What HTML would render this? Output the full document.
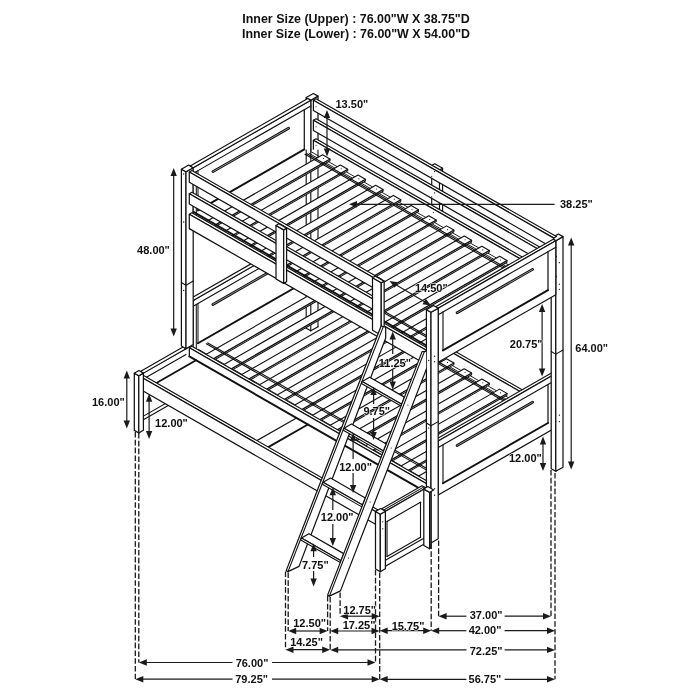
<!DOCTYPE html>
<html><head><meta charset="utf-8"><title>Bunk bed dimensions</title>
<style>
html,body{margin:0;padding:0;background:#fff;}
body{width:700px;height:700px;overflow:hidden;position:relative;font-family:"Liberation Sans",sans-serif;}
svg{position:absolute;left:0;top:0;display:block;will-change:transform;}
svg text{font-family:"Liberation Sans",sans-serif;font-weight:bold;fill:#111;}
</style></head><body>
<svg width="700" height="700" viewBox="0 0 700 700">
<g stroke-linejoin="round" stroke-linecap="round">
<path d="M306.20,97.59 L310.80,100.23 L310.80,330.83 L306.20,328.19 Z" fill="#fff" stroke="#111" stroke-width="1.23" />
<path d="M310.80,100.23 L318.00,96.10 L318.00,326.70 L310.80,330.83 Z" fill="#fff" stroke="#111" stroke-width="1.23" />
<path d="M306.20,97.59 L310.80,100.23 L318.00,96.10 L313.40,93.46 Z" fill="#fff" stroke="#111" stroke-width="1.23" />
<path d="M313.40,273.04 L553.80,410.91 L556.40,409.41 L316.00,271.55 Z" fill="#fff" stroke="#111" stroke-width="1.13" />
<path d="M313.40,273.04 L553.80,410.91 L553.80,425.21 L313.40,287.34 Z" fill="#fff" stroke="#111" stroke-width="1.23" />
<path d="M193.20,300.47 L310.80,233.03 L310.80,288.03 L193.20,355.47 Z" fill="#fff" stroke="#111" stroke-width="1.13" />
<path d="M193.20,300.47 L310.80,233.03 L307.80,231.31 L190.20,298.75 Z" fill="#fff" stroke="#111" stroke-width="1.13" />
<path d="M193.20,306.17 L310.80,238.73" fill="none" stroke="#111" stroke-width="1.13" />
<path d="M304.30,242.45 L304.30,282.25" fill="none" stroke="#111" stroke-width="1.23" />
<path d="M198.00,303.42 L198.00,343.22" fill="none" stroke="#111" stroke-width="1.03" />
<path d="M196.30,304.39 L196.30,353.69" fill="none" stroke="#111" stroke-width="1.03" />
<path d="M198.00,343.22 L304.30,282.25" fill="none" stroke="#111" stroke-width="1.93" />
<path d="M212.90,304.47 L288.60,261.06" fill="none" stroke="#111" stroke-width="2.7" stroke-linecap="round"/>
<path d="M212.90,304.47 L288.60,261.06" fill="none" stroke="#ddd" stroke-width="0.6" stroke-linecap="round"/>
<path d="M191.90,352.02 L432.30,489.89 L553.80,420.21 L313.40,282.34 Z" fill="#fff" stroke="none" stroke-width="0.00" />
<path d="M306.20,283.00 L306.20,328.20" fill="none" stroke="#111" stroke-width="1.13" />
<path d="M310.80,283.00 L310.80,330.80" fill="none" stroke="#111" stroke-width="1.13" />
<path d="M318.00,283.00 L318.00,326.70" fill="none" stroke="#111" stroke-width="1.13" />
<path d="M306.20,328.20 L310.80,330.80" fill="none" stroke="#111" stroke-width="1.13" />
<path d="M310.80,330.80 L318.00,326.70" fill="none" stroke="#111" stroke-width="1.13" />
<path d="M195.50,351.15 L435.90,489.02" fill="none" stroke="#111" stroke-width="0.93" />
<path d="M198.50,349.43 L438.90,487.30" fill="none" stroke="#111" stroke-width="0.93" />
<path d="M309.00,286.06 L549.40,423.93" fill="none" stroke="#111" stroke-width="0.93" />
<path d="M311.40,284.68 L551.80,422.55" fill="none" stroke="#111" stroke-width="0.93" />
<path d="M208.50,361.54 L330.00,291.86 L330.00,293.56 L208.50,363.24 Z" fill="#fff" stroke="#111" stroke-width="1.03" />
<path d="M201.10,357.29 L208.50,361.54 L330.00,291.86 L322.60,287.61 Z" fill="#fff" stroke="#111" stroke-width="1.13" />
<circle cx="323.50" cy="291.34" r="0.55" fill="#111"/>
<path d="M226.20,371.69 L347.70,302.01 L347.70,303.71 L226.20,373.39 Z" fill="#fff" stroke="#111" stroke-width="1.03" />
<path d="M218.80,367.44 L226.20,371.69 L347.70,302.01 L340.30,297.76 Z" fill="#fff" stroke="#111" stroke-width="1.13" />
<circle cx="341.20" cy="301.49" r="0.55" fill="#111"/>
<path d="M243.90,381.84 L365.40,312.16 L365.40,313.86 L243.90,383.54 Z" fill="#fff" stroke="#111" stroke-width="1.03" />
<path d="M236.50,377.59 L243.90,381.84 L365.40,312.16 L358.00,307.91 Z" fill="#fff" stroke="#111" stroke-width="1.13" />
<circle cx="358.90" cy="311.64" r="0.55" fill="#111"/>
<path d="M261.60,391.99 L383.10,322.31 L383.10,324.01 L261.60,393.69 Z" fill="#fff" stroke="#111" stroke-width="1.03" />
<path d="M254.20,387.75 L261.60,391.99 L383.10,322.31 L375.70,318.07 Z" fill="#fff" stroke="#111" stroke-width="1.13" />
<circle cx="376.60" cy="321.79" r="0.55" fill="#111"/>
<path d="M279.30,402.14 L400.80,332.46 L400.80,334.16 L279.30,403.84 Z" fill="#fff" stroke="#111" stroke-width="1.03" />
<path d="M271.90,397.90 L279.30,402.14 L400.80,332.46 L393.40,328.22 Z" fill="#fff" stroke="#111" stroke-width="1.13" />
<circle cx="394.30" cy="331.94" r="0.55" fill="#111"/>
<path d="M297.00,412.29 L418.50,342.61 L418.50,344.31 L297.00,413.99 Z" fill="#fff" stroke="#111" stroke-width="1.03" />
<path d="M289.60,408.05 L297.00,412.29 L418.50,342.61 L411.10,338.37 Z" fill="#fff" stroke="#111" stroke-width="1.13" />
<circle cx="412.00" cy="342.09" r="0.55" fill="#111"/>
<path d="M314.70,422.44 L436.20,352.76 L436.20,354.46 L314.70,424.14 Z" fill="#fff" stroke="#111" stroke-width="1.03" />
<path d="M307.30,418.20 L314.70,422.44 L436.20,352.76 L428.80,348.52 Z" fill="#fff" stroke="#111" stroke-width="1.13" />
<circle cx="429.70" cy="352.25" r="0.55" fill="#111"/>
<path d="M332.40,432.59 L453.90,362.91 L453.90,364.61 L332.40,434.29 Z" fill="#fff" stroke="#111" stroke-width="1.03" />
<path d="M325.00,428.35 L332.40,432.59 L453.90,362.91 L446.50,358.67 Z" fill="#fff" stroke="#111" stroke-width="1.13" />
<circle cx="447.40" cy="362.40" r="0.55" fill="#111"/>
<path d="M350.10,442.74 L471.60,373.06 L471.60,374.76 L350.10,444.44 Z" fill="#fff" stroke="#111" stroke-width="1.03" />
<path d="M342.70,438.50 L350.10,442.74 L471.60,373.06 L464.20,368.82 Z" fill="#fff" stroke="#111" stroke-width="1.13" />
<circle cx="465.10" cy="372.55" r="0.55" fill="#111"/>
<path d="M367.80,452.90 L489.30,383.21 L489.30,384.91 L367.80,454.60 Z" fill="#fff" stroke="#111" stroke-width="1.03" />
<path d="M360.40,448.65 L367.80,452.90 L489.30,383.21 L481.90,378.97 Z" fill="#fff" stroke="#111" stroke-width="1.13" />
<circle cx="482.80" cy="382.70" r="0.55" fill="#111"/>
<path d="M385.50,463.05 L507.00,393.37 L507.00,395.07 L385.50,464.75 Z" fill="#fff" stroke="#111" stroke-width="1.03" />
<path d="M378.10,458.80 L385.50,463.05 L507.00,393.37 L499.60,389.12 Z" fill="#fff" stroke="#111" stroke-width="1.13" />
<circle cx="500.50" cy="392.85" r="0.55" fill="#111"/>
<path d="M403.20,473.20 L524.70,403.52 L524.70,405.22 L403.20,474.90 Z" fill="#fff" stroke="#111" stroke-width="1.03" />
<path d="M395.80,468.95 L403.20,473.20 L524.70,403.52 L517.30,399.27 Z" fill="#fff" stroke="#111" stroke-width="1.13" />
<circle cx="518.20" cy="403.00" r="0.55" fill="#111"/>
<path d="M420.90,483.35 L542.40,413.67 L542.40,415.37 L420.90,485.05 Z" fill="#fff" stroke="#111" stroke-width="1.03" />
<path d="M413.50,479.10 L420.90,483.35 L542.40,413.67 L535.00,409.42 Z" fill="#fff" stroke="#111" stroke-width="1.13" />
<circle cx="535.90" cy="413.15" r="0.55" fill="#111"/>
<path d="M306.50,286.29 L546.90,424.16" fill="none" stroke="#111" stroke-width="1.13" />
<path d="M305.00,287.15 L545.40,425.02" fill="none" stroke="#111" stroke-width="1.13" />
<path d="M206.30,343.76 L446.70,481.63" fill="none" stroke="#111" stroke-width="1.13" />
<path d="M207.80,342.90 L448.20,480.77" fill="none" stroke="#111" stroke-width="1.13" />
<path d="M189.30,347.71 L429.70,485.58 L432.30,484.09 L191.90,346.22 Z" fill="#fff" stroke="#111" stroke-width="1.13" />
<path d="M189.30,347.71 L429.70,485.58 L429.70,499.88 L189.30,362.01 Z" fill="#fff" stroke="#111" stroke-width="1.23" />
<path d="M438.20,440.98 L555.80,373.53 L553.20,372.04 L435.60,439.49 Z" fill="#fff" stroke="#111" stroke-width="1.13" />
<path d="M438.20,440.98 L555.80,373.53 L555.80,427.53 L438.20,494.98 Z" fill="#fff" stroke="#111" stroke-width="1.23" />
<path d="M438.20,447.48 L555.80,380.03" fill="none" stroke="#111" stroke-width="1.13" />
<path d="M443.00,444.73 L443.00,483.23" fill="none" stroke="#111" stroke-width="1.13" />
<path d="M548.00,384.51 L548.00,423.01" fill="none" stroke="#111" stroke-width="1.23" />
<path d="M443.00,483.23 L548.00,423.01" fill="none" stroke="#111" stroke-width="1.93" />
<path d="M457.10,445.54 L532.60,402.24" fill="none" stroke="#111" stroke-width="2.7" stroke-linecap="round"/>
<path d="M457.10,445.54 L532.60,402.24" fill="none" stroke="#ddd" stroke-width="0.6" stroke-linecap="round"/>
<path d="M143.40,373.13 L189.30,346.81 L189.30,360.81 L143.40,387.13 Z" fill="#fff" stroke="#111" stroke-width="1.13" />
<path d="M140.40,371.41 L183.00,346.98 L186.00,348.70 L143.40,373.13 Z" fill="#fff" stroke="#111" stroke-width="1.13" />
<path d="M143.40,378.93 L186.00,354.50" fill="none" stroke="#111" stroke-width="1.13" />
<path d="M143.40,416.13 L180.00,395.14" fill="none" stroke="#111" stroke-width="1.13" />
<path d="M143.40,419.73 L180.00,398.74" fill="none" stroke="#111" stroke-width="1.13" />
<path d="M141.40,383.88 L378.10,519.63 L426.00,492.15 L189.30,356.41 Z" fill="#fff" stroke="none" stroke-width="0.00" />
<path d="M148.15,387.75 L196.05,360.28" fill="none" stroke="#111" stroke-width="1.83" />
<path d="M248.60,445.36 L296.50,417.89" fill="none" stroke="#111" stroke-width="1.13" />
<path d="M260.00,451.90 L307.90,424.42" fill="none" stroke="#111" stroke-width="1.83" />
<path d="M189.30,356.41 L426.00,492.15" fill="none" stroke="#111" stroke-width="1.93" />
<path d="M181.40,169.16 L186.00,171.80 L186.00,348.70 L181.40,346.06 Z" fill="#fff" stroke="#111" stroke-width="1.23" />
<path d="M186.00,171.80 L193.20,167.67 L193.20,344.57 L186.00,348.70 Z" fill="#fff" stroke="#111" stroke-width="1.23" />
<path d="M181.40,169.16 L186.00,171.80 L193.20,167.67 L188.60,165.03 Z" fill="#fff" stroke="#111" stroke-width="1.23" />
<path d="M181.40,282.56 L186.00,285.20" fill="none" stroke="#111" stroke-width="1.03" />
<path d="M186.00,285.20 L193.20,281.07" fill="none" stroke="#111" stroke-width="1.03" />
<circle cx="183.70" cy="173.98" r="0.65" fill="#111"/>
<circle cx="183.70" cy="221.98" r="0.65" fill="#111"/>
<circle cx="183.70" cy="290.48" r="0.65" fill="#111"/>
<path d="M551.20,238.10 L555.80,240.73 L555.80,471.33 L551.20,468.70 Z" fill="#fff" stroke="#111" stroke-width="1.23" />
<path d="M555.80,240.73 L563.00,236.61 L563.00,467.21 L555.80,471.33 Z" fill="#fff" stroke="#111" stroke-width="1.23" />
<path d="M551.20,238.10 L555.80,240.73 L563.00,236.61 L558.40,233.97 Z" fill="#fff" stroke="#111" stroke-width="1.23" />
<path d="M551.20,351.50 L555.80,354.13" fill="none" stroke="#111" stroke-width="1.03" />
<path d="M555.80,354.13 L563.00,350.01" fill="none" stroke="#111" stroke-width="1.03" />
<circle cx="559.40" cy="262.67" r="0.65" fill="#111"/>
<circle cx="559.40" cy="284.17" r="0.65" fill="#111"/>
<circle cx="559.40" cy="289.37" r="0.65" fill="#111"/>
<circle cx="559.40" cy="415.17" r="0.65" fill="#111"/>
<circle cx="559.40" cy="421.67" r="0.65" fill="#111"/>
<path d="M431.70,165.60 L439.50,170.07 L439.50,228.07 L431.70,223.60 Z" fill="#fff" stroke="#111" stroke-width="1.13" />
<path d="M439.50,170.07 L442.60,168.29 L442.60,226.29 L439.50,228.07 Z" fill="#fff" stroke="#111" stroke-width="1.13" />
<path d="M431.70,165.60 L439.50,170.07 L442.60,168.29 L434.80,163.82 Z" fill="#fff" stroke="#111" stroke-width="1.13" />
<path d="M313.40,100.24 L553.80,238.11 L556.40,236.61 L316.00,98.75 Z" fill="#fff" stroke="#111" stroke-width="1.13" />
<path d="M313.40,100.24 L553.80,238.11 L553.80,248.41 L313.40,110.54 Z" fill="#fff" stroke="#111" stroke-width="1.23" />
<path d="M313.40,120.24 L553.80,258.11 L556.40,256.61 L316.00,118.75 Z" fill="#fff" stroke="#111" stroke-width="1.13" />
<path d="M313.40,120.24 L553.80,258.11 L553.80,268.41 L313.40,130.54 Z" fill="#fff" stroke="#111" stroke-width="1.23" />
<path d="M313.40,140.24 L553.80,278.11 L556.40,276.61 L316.00,138.75 Z" fill="#fff" stroke="#111" stroke-width="1.13" />
<path d="M313.40,140.24 L553.80,278.11 L553.80,292.41 L313.40,154.54 Z" fill="#fff" stroke="#111" stroke-width="1.23" />
<circle cx="316.00" cy="106.73" r="0.60" fill="#111"/>
<circle cx="316.00" cy="126.73" r="0.60" fill="#111"/>
<circle cx="316.00" cy="145.23" r="0.60" fill="#111"/>
<circle cx="316.00" cy="152.23" r="0.60" fill="#111"/>
<circle cx="434.60" cy="171.70" r="0.60" fill="#111"/>
<circle cx="431.70" cy="176.30" r="0.60" fill="#111"/>
<circle cx="434.60" cy="192.90" r="0.60" fill="#111"/>
<circle cx="431.70" cy="196.90" r="0.60" fill="#111"/>
<circle cx="433.40" cy="212.30" r="0.60" fill="#111"/>
<circle cx="431.10" cy="218.60" r="0.60" fill="#111"/>
<path d="M193.20,167.67 L310.80,100.23 L310.80,155.23 L193.20,222.67 Z" fill="#fff" stroke="#111" stroke-width="1.13" />
<path d="M193.20,167.67 L310.80,100.23 L307.80,98.51 L190.20,165.95 Z" fill="#fff" stroke="#111" stroke-width="1.13" />
<path d="M193.20,173.37 L310.80,105.93" fill="none" stroke="#111" stroke-width="1.13" />
<path d="M304.30,109.65 L304.30,149.45" fill="none" stroke="#111" stroke-width="1.23" />
<path d="M198.00,170.62 L198.00,210.42" fill="none" stroke="#111" stroke-width="1.03" />
<path d="M196.30,171.59 L196.30,220.89" fill="none" stroke="#111" stroke-width="1.03" />
<path d="M198.00,210.42 L304.30,149.45" fill="none" stroke="#111" stroke-width="1.93" />
<path d="M212.90,171.67 L288.60,128.26" fill="none" stroke="#111" stroke-width="2.7" stroke-linecap="round"/>
<path d="M212.90,171.67 L288.60,128.26" fill="none" stroke="#ddd" stroke-width="0.6" stroke-linecap="round"/>
<path d="M191.90,219.22 L432.30,357.09 L553.80,287.41 L313.40,149.54 Z" fill="#fff" stroke="none" stroke-width="0.00" />
<path d="M306.20,150.00 L306.20,240.00" fill="none" stroke="#111" stroke-width="1.13" />
<path d="M310.80,150.00 L310.80,240.00" fill="none" stroke="#111" stroke-width="1.13" />
<path d="M318.00,150.00 L318.00,240.00" fill="none" stroke="#111" stroke-width="1.13" />
<path d="M195.50,218.35 L435.90,356.22" fill="none" stroke="#111" stroke-width="0.93" />
<path d="M198.50,216.63 L438.90,354.50" fill="none" stroke="#111" stroke-width="0.93" />
<path d="M309.00,153.26 L549.40,291.13" fill="none" stroke="#111" stroke-width="0.93" />
<path d="M311.40,151.88 L551.80,289.75" fill="none" stroke="#111" stroke-width="0.93" />
<path d="M208.50,228.74 L330.00,159.06 L330.00,160.76 L208.50,230.44 Z" fill="#fff" stroke="#111" stroke-width="1.03" />
<path d="M201.10,224.49 L208.50,228.74 L330.00,159.06 L322.60,154.81 Z" fill="#fff" stroke="#111" stroke-width="1.13" />
<circle cx="323.50" cy="158.54" r="0.55" fill="#111"/>
<path d="M226.20,238.89 L347.70,169.21 L347.70,170.91 L226.20,240.59 Z" fill="#fff" stroke="#111" stroke-width="1.03" />
<path d="M218.80,234.64 L226.20,238.89 L347.70,169.21 L340.30,164.96 Z" fill="#fff" stroke="#111" stroke-width="1.13" />
<circle cx="341.20" cy="168.69" r="0.55" fill="#111"/>
<path d="M243.90,249.04 L365.40,179.36 L365.40,181.06 L243.90,250.74 Z" fill="#fff" stroke="#111" stroke-width="1.03" />
<path d="M236.50,244.79 L243.90,249.04 L365.40,179.36 L358.00,175.11 Z" fill="#fff" stroke="#111" stroke-width="1.13" />
<circle cx="358.90" cy="178.84" r="0.55" fill="#111"/>
<path d="M261.60,259.19 L383.10,189.51 L383.10,191.21 L261.60,260.89 Z" fill="#fff" stroke="#111" stroke-width="1.03" />
<path d="M254.20,254.95 L261.60,259.19 L383.10,189.51 L375.70,185.27 Z" fill="#fff" stroke="#111" stroke-width="1.13" />
<circle cx="376.60" cy="188.99" r="0.55" fill="#111"/>
<path d="M279.30,269.34 L400.80,199.66 L400.80,201.36 L279.30,271.04 Z" fill="#fff" stroke="#111" stroke-width="1.03" />
<path d="M271.90,265.10 L279.30,269.34 L400.80,199.66 L393.40,195.42 Z" fill="#fff" stroke="#111" stroke-width="1.13" />
<circle cx="394.30" cy="199.14" r="0.55" fill="#111"/>
<path d="M297.00,279.49 L418.50,209.81 L418.50,211.51 L297.00,281.19 Z" fill="#fff" stroke="#111" stroke-width="1.03" />
<path d="M289.60,275.25 L297.00,279.49 L418.50,209.81 L411.10,205.57 Z" fill="#fff" stroke="#111" stroke-width="1.13" />
<circle cx="412.00" cy="209.29" r="0.55" fill="#111"/>
<path d="M314.70,289.64 L436.20,219.96 L436.20,221.66 L314.70,291.34 Z" fill="#fff" stroke="#111" stroke-width="1.03" />
<path d="M307.30,285.40 L314.70,289.64 L436.20,219.96 L428.80,215.72 Z" fill="#fff" stroke="#111" stroke-width="1.13" />
<circle cx="429.70" cy="219.45" r="0.55" fill="#111"/>
<path d="M332.40,299.79 L453.90,230.11 L453.90,231.81 L332.40,301.49 Z" fill="#fff" stroke="#111" stroke-width="1.03" />
<path d="M325.00,295.55 L332.40,299.79 L453.90,230.11 L446.50,225.87 Z" fill="#fff" stroke="#111" stroke-width="1.13" />
<circle cx="447.40" cy="229.60" r="0.55" fill="#111"/>
<path d="M350.10,309.94 L471.60,240.26 L471.60,241.96 L350.10,311.64 Z" fill="#fff" stroke="#111" stroke-width="1.03" />
<path d="M342.70,305.70 L350.10,309.94 L471.60,240.26 L464.20,236.02 Z" fill="#fff" stroke="#111" stroke-width="1.13" />
<circle cx="465.10" cy="239.75" r="0.55" fill="#111"/>
<path d="M367.80,320.10 L489.30,250.41 L489.30,252.11 L367.80,321.80 Z" fill="#fff" stroke="#111" stroke-width="1.03" />
<path d="M360.40,315.85 L367.80,320.10 L489.30,250.41 L481.90,246.17 Z" fill="#fff" stroke="#111" stroke-width="1.13" />
<circle cx="482.80" cy="249.90" r="0.55" fill="#111"/>
<path d="M385.50,330.25 L507.00,260.57 L507.00,262.27 L385.50,331.95 Z" fill="#fff" stroke="#111" stroke-width="1.03" />
<path d="M378.10,326.00 L385.50,330.25 L507.00,260.57 L499.60,256.32 Z" fill="#fff" stroke="#111" stroke-width="1.13" />
<circle cx="500.50" cy="260.05" r="0.55" fill="#111"/>
<path d="M403.20,340.40 L524.70,270.72 L524.70,272.42 L403.20,342.10 Z" fill="#fff" stroke="#111" stroke-width="1.03" />
<path d="M395.80,336.15 L403.20,340.40 L524.70,270.72 L517.30,266.47 Z" fill="#fff" stroke="#111" stroke-width="1.13" />
<circle cx="518.20" cy="270.20" r="0.55" fill="#111"/>
<path d="M420.90,350.55 L542.40,280.87 L542.40,282.57 L420.90,352.25 Z" fill="#fff" stroke="#111" stroke-width="1.03" />
<path d="M413.50,346.30 L420.90,350.55 L542.40,280.87 L535.00,276.62 Z" fill="#fff" stroke="#111" stroke-width="1.13" />
<circle cx="535.90" cy="280.35" r="0.55" fill="#111"/>
<path d="M306.50,153.49 L546.90,291.36" fill="none" stroke="#111" stroke-width="1.13" />
<path d="M305.00,154.35 L545.40,292.22" fill="none" stroke="#111" stroke-width="1.13" />
<path d="M206.30,210.96 L446.70,348.83" fill="none" stroke="#111" stroke-width="1.13" />
<path d="M207.80,210.10 L448.20,347.97" fill="none" stroke="#111" stroke-width="1.13" />
<path d="M193.50,211.90 L433.90,349.77" fill="none" stroke="#111" stroke-width="1.93" />
<path d="M189.30,214.31 L429.70,352.18 L432.30,350.69 L191.90,212.82 Z" fill="#fff" stroke="#111" stroke-width="1.13" />
<path d="M189.30,214.31 L429.70,352.18 L429.70,366.48 L189.30,228.61 Z" fill="#fff" stroke="#111" stroke-width="1.23" />
<path d="M189.30,193.71 L379.30,302.67 L381.90,301.18 L191.90,192.22 Z" fill="#fff" stroke="#111" stroke-width="1.13" />
<path d="M189.30,193.71 L379.30,302.67 L379.30,312.97 L189.30,204.01 Z" fill="#fff" stroke="#111" stroke-width="1.23" />
<path d="M189.30,172.01 L379.30,280.97 L381.90,279.48 L191.90,170.52 Z" fill="#fff" stroke="#111" stroke-width="1.13" />
<path d="M189.30,172.01 L379.30,280.97 L379.30,291.27 L189.30,182.31 Z" fill="#fff" stroke="#111" stroke-width="1.23" />
<path d="M438.20,308.18 L555.80,240.73 L553.20,239.24 L435.60,306.69 Z" fill="#fff" stroke="#111" stroke-width="1.13" />
<path d="M438.20,308.18 L555.80,240.73 L555.80,294.73 L438.20,362.18 Z" fill="#fff" stroke="#111" stroke-width="1.23" />
<path d="M438.20,314.68 L555.80,247.23" fill="none" stroke="#111" stroke-width="1.13" />
<path d="M443.00,311.93 L443.00,350.43" fill="none" stroke="#111" stroke-width="1.13" />
<path d="M548.00,251.71 L548.00,290.21" fill="none" stroke="#111" stroke-width="1.23" />
<path d="M443.00,350.43 L548.00,290.21" fill="none" stroke="#111" stroke-width="1.93" />
<path d="M457.10,312.74 L532.60,269.44" fill="none" stroke="#111" stroke-width="2.7" stroke-linecap="round"/>
<path d="M457.10,312.74 L532.60,269.44" fill="none" stroke="#ddd" stroke-width="0.6" stroke-linecap="round"/>
<path d="M276.00,225.46 L283.70,229.87 L283.70,283.37 L276.00,278.96 Z" fill="#fff" stroke="#111" stroke-width="1.23" />
<path d="M283.70,229.87 L286.60,228.21 L286.60,281.71 L283.70,283.37 Z" fill="#fff" stroke="#111" stroke-width="1.23" />
<path d="M276.00,225.46 L283.70,229.87 L286.60,228.21 L278.90,223.79 Z" fill="#fff" stroke="#111" stroke-width="1.23" />
<path d="M372.50,277.80 L381.25,282.82 L381.25,335.32 L372.50,330.30 Z" fill="#fff" stroke="#111" stroke-width="1.23" />
<path d="M381.25,282.82 L384.15,281.15 L384.15,333.65 L381.25,335.32 Z" fill="#fff" stroke="#111" stroke-width="1.23" />
<path d="M372.50,277.80 L381.25,282.82 L384.15,281.15 L375.40,276.14 Z" fill="#fff" stroke="#111" stroke-width="1.23" />
<path d="M426.40,309.67 L431.00,312.31 L431.00,542.91 L426.40,540.27 Z" fill="#fff" stroke="#111" stroke-width="1.23" />
<path d="M431.00,312.31 L438.20,308.18 L438.20,538.78 L431.00,542.91 Z" fill="#fff" stroke="#111" stroke-width="1.23" />
<path d="M426.40,309.67 L431.00,312.31 L438.20,308.18 L433.60,305.54 Z" fill="#fff" stroke="#111" stroke-width="1.23" />
<path d="M426.40,423.07 L431.00,425.71" fill="none" stroke="#111" stroke-width="1.03" />
<path d="M431.00,425.71 L438.20,421.58" fill="none" stroke="#111" stroke-width="1.03" />
<circle cx="434.60" cy="356.24" r="0.65" fill="#111"/>
<circle cx="434.60" cy="361.74" r="0.65" fill="#111"/>
<circle cx="428.70" cy="360.49" r="0.65" fill="#111"/>
<circle cx="434.60" cy="488.74" r="0.65" fill="#111"/>
<circle cx="434.60" cy="495.24" r="0.65" fill="#111"/>
<circle cx="428.70" cy="427.99" r="0.65" fill="#111"/>
<path d="M381.40,509.05 L422.00,485.77 L426.00,488.06 L385.40,511.34 Z" fill="#fff" stroke="#111" stroke-width="1.13" />
<path d="M383.40,510.20 L424.00,486.91" fill="none" stroke="#111" stroke-width="1.03" />
<path d="M385.40,511.34 L426.00,488.06 L426.00,542.96 L385.40,566.24 Z" fill="#fff" stroke="#111" stroke-width="1.23" />
<path d="M387.00,521.43 L420.50,502.21" fill="none" stroke="#111" stroke-width="1.13" />
<path d="M387.00,521.43 L387.00,556.43" fill="none" stroke="#111" stroke-width="1.13" />
<path d="M420.50,502.21 L420.50,537.21" fill="none" stroke="#111" stroke-width="1.13" />
<path d="M387.00,556.43 L420.50,537.21" fill="none" stroke="#111" stroke-width="1.13" />
<path d="M385.40,560.24 L426.00,536.96" fill="none" stroke="#111" stroke-width="1.13" />
<path d="M138.80,375.77 L375.50,511.52 L378.10,510.03 L141.40,374.28 Z" fill="#fff" stroke="#111" stroke-width="1.13" />
<path d="M138.80,375.77 L375.50,511.52 L375.50,524.32 L138.80,388.57 Z" fill="#fff" stroke="#111" stroke-width="1.23" />
<path d="M134.30,373.19 L138.80,375.77 L138.80,432.97 L134.30,430.39 Z" fill="#fff" stroke="#111" stroke-width="1.23" />
<path d="M138.80,375.77 L143.40,373.13 L143.40,430.33 L138.80,432.97 Z" fill="#fff" stroke="#111" stroke-width="1.23" />
<path d="M134.30,373.19 L138.80,375.77 L143.40,373.13 L138.90,370.55 Z" fill="#fff" stroke="#111" stroke-width="1.23" />
<path d="M375.50,511.52 L380.30,514.27 L380.30,571.67 L375.50,568.92 Z" fill="#fff" stroke="#111" stroke-width="1.23" />
<path d="M380.30,514.27 L385.40,511.34 L385.40,568.74 L380.30,571.67 Z" fill="#fff" stroke="#111" stroke-width="1.23" />
<path d="M375.50,511.52 L380.30,514.27 L385.40,511.34 L380.60,508.59 Z" fill="#fff" stroke="#111" stroke-width="1.23" />
<circle cx="382.80" cy="521.84" r="0.65" fill="#111"/>
<circle cx="382.80" cy="528.84" r="0.65" fill="#111"/>
<path d="M423.80,488.91 L429.60,492.24 L429.60,548.74 L423.80,545.41 Z" fill="#fff" stroke="#111" stroke-width="1.23" />
<path d="M429.60,492.24 L431.00,491.44 L431.00,547.94 L429.60,548.74 Z" fill="#fff" stroke="#111" stroke-width="1.23" />
<path d="M423.80,488.91 L429.60,492.24 L431.00,491.44 L425.20,488.11 Z" fill="#fff" stroke="#111" stroke-width="1.23" />
<path d="M423.80,488.91 L429.60,492.24 L433.70,489.89 L427.90,486.56 Z" fill="#fff" stroke="#111" stroke-width="1.13" />
<path d="M381.10,326.00 L385.70,327.10 L385.70,338.00 L299.02,566.40 L288.01,571.60 L286.20,570.60 Z" fill="#fff" stroke="#111" stroke-width="1.23" />
<path d="M383.30,326.60 L288.01,571.60" fill="none" stroke="#111" stroke-width="1.13" />
<path d="M362.17,381.50 L401.70,404.17 L404.43,397.14 L369.67,377.20 Z" fill="#fff" stroke="#111" stroke-width="1.23" />
<path d="M362.17,381.50 L401.70,404.17 L401.00,406.07 L361.47,383.40 Z" fill="#fff" stroke="#111" stroke-width="1.13" />
<path d="M344.01,428.30 L383.54,450.97 L386.27,443.94 L351.51,424.00 Z" fill="#fff" stroke="#111" stroke-width="1.23" />
<path d="M344.01,428.30 L383.54,450.97 L382.84,452.87 L343.31,430.20 Z" fill="#fff" stroke="#111" stroke-width="1.13" />
<path d="M323.06,482.30 L362.59,504.97 L365.32,497.94 L330.56,478.00 Z" fill="#fff" stroke="#111" stroke-width="1.23" />
<path d="M323.06,482.30 L362.59,504.97 L361.89,506.87 L322.36,484.20 Z" fill="#fff" stroke="#111" stroke-width="1.13" />
<path d="M301.44,538.00 L340.98,560.67 L343.71,553.64 L308.94,533.70 Z" fill="#fff" stroke="#111" stroke-width="1.23" />
<path d="M301.44,538.00 L340.98,560.67 L340.28,562.57 L300.74,539.90 Z" fill="#fff" stroke="#111" stroke-width="1.13" />
<clipPath id="rc"><polygon points="0,0 426.2,0 426.2,700 0,700"/></clipPath>
<g clip-path="url(#rc)">
<path d="M422.10,351.60 L433.30,351.10 L340.45,590.90 L329.43,596.10 L327.62,595.10 Z" fill="#fff" stroke="#111" stroke-width="1.23" />
<path d="M424.30,351.90 L329.43,596.10" fill="none" stroke="#111" stroke-width="1.13" />
</g>
<circle cx="407.88" cy="405.00" r="0.60" fill="#111"/>
<circle cx="391.20" cy="448.00" r="0.60" fill="#111"/>
<circle cx="370.24" cy="502.00" r="0.60" fill="#111"/>
<circle cx="348.52" cy="558.00" r="0.60" fill="#111"/>
</g>
<text x="356.00" y="23.00" font-size="12.45" text-anchor="middle">Inner Size (Upper) : 76.00&quot;W X 38.75&quot;D</text>
<text x="356.00" y="38.20" font-size="12.45" text-anchor="middle">Inner Size (Lower) : 76.00&quot;W X 54.00&quot;D</text>
<path d="M173.70,172.00 L173.70,332.40" stroke="#1a1a1a" stroke-width="1.20" fill="none"/>
<polygon points="173.70,168.00 176.90,176.00 170.50,176.00" fill="#1a1a1a"/>
<polygon points="173.70,336.40 170.50,328.40 176.90,328.40" fill="#1a1a1a"/>
<text x="137.10" y="253.90" font-size="11" text-anchor="start">48.00&quot;</text>
<path d="M126.80,374.60 L126.80,424.60" stroke="#1a1a1a" stroke-width="1.20" fill="none"/>
<polygon points="126.80,370.60 130.00,378.60 123.60,378.60" fill="#1a1a1a"/>
<polygon points="126.80,428.60 123.60,420.60 130.00,420.60" fill="#1a1a1a"/>
<text x="92.00" y="405.90" font-size="11" text-anchor="start">16.00&quot;</text>
<path d="M149.10,397.80 L149.10,434.90" stroke="#1a1a1a" stroke-width="1.20" fill="none"/>
<polygon points="149.10,393.80 152.30,401.80 145.90,401.80" fill="#1a1a1a"/>
<polygon points="149.10,438.90 145.90,430.90 152.30,430.90" fill="#1a1a1a"/>
<text x="155.10" y="427.20" font-size="11" text-anchor="start" stroke="#fff" stroke-width="1.1" stroke-linejoin="round">12.00&quot;</text>
<text x="155.10" y="427.20" font-size="11" text-anchor="start">12.00&quot;</text>
<path d="M327.00,114.00 L327.00,152.50" stroke="#1a1a1a" stroke-width="1.20" fill="none"/>
<polygon points="327.00,110.00 330.20,118.00 323.80,118.00" fill="#1a1a1a"/>
<polygon points="327.00,156.50 323.80,148.50 330.20,148.50" fill="#1a1a1a"/>
<text x="335.50" y="108.10" font-size="11" text-anchor="start">13.50&quot;</text>
<path d="M571.20,241.60 L571.20,465.60" stroke="#1a1a1a" stroke-width="1.20" fill="none"/>
<polygon points="571.20,237.60 574.40,245.60 568.00,245.60" fill="#1a1a1a"/>
<polygon points="571.20,469.60 568.00,461.60 574.40,461.60" fill="#1a1a1a"/>
<text x="575.30" y="351.60" font-size="11" text-anchor="start">64.00&quot;</text>
<path d="M542.10,307.90 L542.10,372.40" stroke="#1a1a1a" stroke-width="1.20" fill="none"/>
<polygon points="542.10,303.90 545.30,311.90 538.90,311.90" fill="#1a1a1a"/>
<polygon points="542.10,376.40 538.90,368.40 545.30,368.40" fill="#1a1a1a"/>
<text x="509.80" y="348.20" font-size="11" text-anchor="start" stroke="#fff" stroke-width="1.1" stroke-linejoin="round">20.75&quot;</text>
<text x="509.80" y="348.20" font-size="11" text-anchor="start">20.75&quot;</text>
<path d="M543.00,440.50 L543.00,466.90" stroke="#1a1a1a" stroke-width="1.20" fill="none"/>
<polygon points="543.00,436.50 546.20,444.50 539.80,444.50" fill="#1a1a1a"/>
<polygon points="543.00,470.90 539.80,462.90 546.20,462.90" fill="#1a1a1a"/>
<text x="509.00" y="462.20" font-size="11" text-anchor="start" stroke="#fff" stroke-width="1.1" stroke-linejoin="round">12.00&quot;</text>
<text x="509.00" y="462.20" font-size="11" text-anchor="start">12.00&quot;</text>
<path d="M353.00,204.30 L554.60,204.30" stroke="#1a1a1a" stroke-width="1.20" fill="none"/>
<polygon points="349.00,204.30 357.00,201.10 357.00,207.50" fill="#1a1a1a"/>
<text x="560.00" y="207.60" font-size="11" text-anchor="start">38.25&quot;</text>
<path d="M392.94,283.03 L427.56,303.47" stroke="#1a1a1a" stroke-width="1.20" fill="none"/>
<polygon points="389.50,281.00 398.02,282.31 394.76,287.82" fill="#1a1a1a"/>
<polygon points="431.00,305.50 422.48,304.19 425.74,298.68" fill="#1a1a1a"/>
<text x="414.90" y="292.00" font-size="11" text-anchor="start" stroke="#fff" stroke-width="1.1" stroke-linejoin="round">14.50&quot;</text>
<text x="414.90" y="292.00" font-size="11" text-anchor="start">14.50&quot;</text>
<path d="M392.70,335.50 L392.70,354.00" stroke="#1a1a1a" stroke-width="1.20" fill="none"/>
<path d="M392.70,370.00 L392.70,385.50" stroke="#1a1a1a" stroke-width="1.20" fill="none"/>
<polygon points="392.70,331.50 395.90,339.50 389.50,339.50" fill="#1a1a1a"/>
<polygon points="392.70,389.50 389.50,381.50 395.90,381.50" fill="#1a1a1a"/>
<text x="378.80" y="366.80" font-size="11" text-anchor="start" stroke="#fff" stroke-width="1.1" stroke-linejoin="round">11.25&quot;</text>
<text x="378.80" y="366.80" font-size="11" text-anchor="start">11.25&quot;</text>
<path d="M373.60,391.00 L373.60,404.00" stroke="#1a1a1a" stroke-width="1.20" fill="none"/>
<path d="M373.60,418.00 L373.60,436.00" stroke="#1a1a1a" stroke-width="1.20" fill="none"/>
<polygon points="373.60,387.00 376.80,395.00 370.40,395.00" fill="#1a1a1a"/>
<polygon points="373.60,440.00 370.40,432.00 376.80,432.00" fill="#1a1a1a"/>
<text x="363.40" y="415.10" font-size="11" text-anchor="start" stroke="#fff" stroke-width="1.1" stroke-linejoin="round">9.75&quot;</text>
<text x="363.40" y="415.10" font-size="11" text-anchor="start">9.75&quot;</text>
<path d="M353.10,436.80 L353.10,459.00" stroke="#1a1a1a" stroke-width="1.20" fill="none"/>
<path d="M353.10,473.00 L353.10,489.00" stroke="#1a1a1a" stroke-width="1.20" fill="none"/>
<polygon points="353.10,432.80 356.30,440.80 349.90,440.80" fill="#1a1a1a"/>
<polygon points="353.10,493.00 349.90,485.00 356.30,485.00" fill="#1a1a1a"/>
<text x="339.20" y="470.60" font-size="11" text-anchor="start" stroke="#fff" stroke-width="1.1" stroke-linejoin="round">12.00&quot;</text>
<text x="339.20" y="470.60" font-size="11" text-anchor="start">12.00&quot;</text>
<path d="M332.80,491.20 L332.80,510.00" stroke="#1a1a1a" stroke-width="1.20" fill="none"/>
<path d="M332.80,524.00 L332.80,542.00" stroke="#1a1a1a" stroke-width="1.20" fill="none"/>
<polygon points="332.80,487.20 336.00,495.20 329.60,495.20" fill="#1a1a1a"/>
<polygon points="332.80,546.00 329.60,538.00 336.00,538.00" fill="#1a1a1a"/>
<text x="320.80" y="521.20" font-size="11" text-anchor="start" stroke="#fff" stroke-width="1.1" stroke-linejoin="round">12.00&quot;</text>
<text x="320.80" y="521.20" font-size="11" text-anchor="start">12.00&quot;</text>
<path d="M313.60,547.20 L313.60,557.00" stroke="#1a1a1a" stroke-width="1.20" fill="none"/>
<path d="M313.60,571.00 L313.60,582.60" stroke="#1a1a1a" stroke-width="1.20" fill="none"/>
<polygon points="313.60,543.20 316.80,551.20 310.40,551.20" fill="#1a1a1a"/>
<polygon points="313.60,586.60 310.40,578.60 316.80,578.60" fill="#1a1a1a"/>
<text x="302.00" y="568.90" font-size="11" text-anchor="start" stroke="#fff" stroke-width="1.1" stroke-linejoin="round">7.75&quot;</text>
<text x="302.00" y="568.90" font-size="11" text-anchor="start">7.75&quot;</text>
<path d="M135.30,432.00 L135.30,679.00" stroke="#1a1a1a" stroke-width="1.3" stroke-dasharray="5.6 2.2" fill="none"/>
<path d="M138.80,433.00 L138.80,662.50" stroke="#1a1a1a" stroke-width="1.3" stroke-dasharray="5.6 2.2" fill="none"/>
<path d="M285.50,571.50 L285.50,649.70" stroke="#1a1a1a" stroke-width="1.3" stroke-dasharray="5.6 2.2" fill="none"/>
<path d="M288.20,572.50 L288.20,631.00" stroke="#1a1a1a" stroke-width="1.3" stroke-dasharray="5.6 2.2" fill="none"/>
<path d="M327.60,596.00 L327.60,631.00" stroke="#1a1a1a" stroke-width="1.3" stroke-dasharray="5.6 2.2" fill="none"/>
<path d="M330.20,597.00 L330.20,649.70" stroke="#1a1a1a" stroke-width="1.3" stroke-dasharray="5.6 2.2" fill="none"/>
<path d="M340.10,592.50 L340.10,616.20" stroke="#1a1a1a" stroke-width="1.3" stroke-dasharray="5.6 2.2" fill="none"/>
<path d="M375.50,570.00 L375.50,662.50" stroke="#1a1a1a" stroke-width="1.3" stroke-dasharray="5.6 2.2" fill="none"/>
<path d="M379.70,572.50 L379.70,679.20" stroke="#1a1a1a" stroke-width="1.3" stroke-dasharray="5.6 2.2" fill="none"/>
<path d="M431.20,543.50 L431.20,630.70" stroke="#1a1a1a" stroke-width="1.3" stroke-dasharray="5.6 2.2" fill="none"/>
<path d="M438.60,540.50 L438.60,616.20" stroke="#1a1a1a" stroke-width="1.3" stroke-dasharray="5.6 2.2" fill="none"/>
<path d="M551.00,470.00 L551.00,616.20" stroke="#1a1a1a" stroke-width="1.3" stroke-dasharray="5.6 2.2" fill="none"/>
<path d="M555.00,473.00 L555.00,679.30" stroke="#1a1a1a" stroke-width="1.3" stroke-dasharray="5.6 2.2" fill="none"/>
<path d="M344.10,616.20 L375.70,616.20" stroke="#1a1a1a" stroke-width="1.20" fill="none"/>
<polygon points="340.10,616.20 348.10,613.00 348.10,619.40" fill="#1a1a1a"/>
<polygon points="379.70,616.20 371.70,619.40 371.70,613.00" fill="#1a1a1a"/>
<text x="359.70" y="614.30" font-size="11" text-anchor="middle" stroke="#fff" stroke-width="1.1" stroke-linejoin="round">12.75&quot;</text>
<text x="359.70" y="614.30" font-size="11" text-anchor="middle">12.75&quot;</text>
<path d="M292.20,631.00 L323.60,631.00" stroke="#1a1a1a" stroke-width="1.20" fill="none"/>
<polygon points="288.20,631.00 296.20,627.80 296.20,634.20" fill="#1a1a1a"/>
<polygon points="327.60,631.00 319.60,634.20 319.60,627.80" fill="#1a1a1a"/>
<text x="309.60" y="626.70" font-size="11" text-anchor="middle" stroke="#fff" stroke-width="1.1" stroke-linejoin="round">12.50&quot;</text>
<text x="309.60" y="626.70" font-size="11" text-anchor="middle">12.50&quot;</text>
<path d="M334.20,631.00 L375.50,631.00" stroke="#1a1a1a" stroke-width="1.20" fill="none"/>
<polygon points="330.20,631.00 338.20,627.80 338.20,634.20" fill="#1a1a1a"/>
<polygon points="379.50,631.00 371.50,634.20 371.50,627.80" fill="#1a1a1a"/>
<text x="359.00" y="629.30" font-size="11" text-anchor="middle" stroke="#fff" stroke-width="1.1" stroke-linejoin="round">17.25&quot;</text>
<text x="359.00" y="629.30" font-size="11" text-anchor="middle">17.25&quot;</text>
<path d="M383.70,630.70 L427.20,630.70" stroke="#1a1a1a" stroke-width="1.20" fill="none"/>
<polygon points="379.70,630.70 387.70,627.50 387.70,633.90" fill="#1a1a1a"/>
<polygon points="431.20,630.70 423.20,633.90 423.20,627.50" fill="#1a1a1a"/>
<text x="408.00" y="629.70" font-size="11" text-anchor="middle" stroke="#fff" stroke-width="1.1" stroke-linejoin="round">15.75&quot;</text>
<text x="408.00" y="629.70" font-size="11" text-anchor="middle">15.75&quot;</text>
<path d="M289.50,649.70 L326.20,649.70" stroke="#1a1a1a" stroke-width="1.20" fill="none"/>
<polygon points="285.50,649.70 293.50,646.50 293.50,652.90" fill="#1a1a1a"/>
<polygon points="330.20,649.70 322.20,652.90 322.20,646.50" fill="#1a1a1a"/>
<text x="306.50" y="646.40" font-size="11" text-anchor="middle" stroke="#fff" stroke-width="1.1" stroke-linejoin="round">14.25&quot;</text>
<text x="306.50" y="646.40" font-size="11" text-anchor="middle">14.25&quot;</text>
<path d="M334.20,649.90 L466.40,649.90" stroke="#1a1a1a" stroke-width="1.20" fill="none"/>
<path d="M504.60,649.90 L551.00,649.90" stroke="#1a1a1a" stroke-width="1.20" fill="none"/>
<polygon points="330.20,649.90 338.20,646.70 338.20,653.10" fill="#1a1a1a"/>
<polygon points="555.00,649.90 547.00,653.10 547.00,646.70" fill="#1a1a1a"/>
<text x="486.10" y="654.60" font-size="11" text-anchor="middle">72.25&quot;</text>
<path d="M142.80,662.50 L232.50,662.50" stroke="#1a1a1a" stroke-width="1.20" fill="none"/>
<path d="M272.00,662.50 L371.50,662.50" stroke="#1a1a1a" stroke-width="1.20" fill="none"/>
<polygon points="138.80,662.50 146.80,659.30 146.80,665.70" fill="#1a1a1a"/>
<polygon points="375.50,662.50 367.50,665.70 367.50,659.30" fill="#1a1a1a"/>
<text x="252.00" y="666.60" font-size="11" text-anchor="middle">76.00&quot;</text>
<path d="M139.30,679.20 L232.50,679.20" stroke="#1a1a1a" stroke-width="1.20" fill="none"/>
<path d="M272.00,679.20 L375.70,679.20" stroke="#1a1a1a" stroke-width="1.20" fill="none"/>
<polygon points="135.30,679.20 143.30,676.00 143.30,682.40" fill="#1a1a1a"/>
<polygon points="379.70,679.20 371.70,682.40 371.70,676.00" fill="#1a1a1a"/>
<text x="251.60" y="683.20" font-size="11" text-anchor="middle">79.25&quot;</text>
<path d="M442.60,616.20 L466.40,616.20" stroke="#1a1a1a" stroke-width="1.20" fill="none"/>
<path d="M504.60,616.20 L547.00,616.20" stroke="#1a1a1a" stroke-width="1.20" fill="none"/>
<polygon points="438.60,616.20 446.60,613.00 446.60,619.40" fill="#1a1a1a"/>
<polygon points="551.00,616.20 543.00,619.40 543.00,613.00" fill="#1a1a1a"/>
<text x="486.10" y="619.30" font-size="11" text-anchor="middle">37.00&quot;</text>
<path d="M435.20,630.70 L466.40,630.70" stroke="#1a1a1a" stroke-width="1.20" fill="none"/>
<path d="M504.60,630.70 L551.00,630.70" stroke="#1a1a1a" stroke-width="1.20" fill="none"/>
<polygon points="431.20,630.70 439.20,627.50 439.20,633.90" fill="#1a1a1a"/>
<polygon points="555.00,630.70 547.00,633.90 547.00,627.50" fill="#1a1a1a"/>
<text x="485.00" y="634.30" font-size="11" text-anchor="middle">42.00&quot;</text>
<path d="M383.70,679.30 L466.40,679.30" stroke="#1a1a1a" stroke-width="1.20" fill="none"/>
<path d="M504.60,679.30 L551.00,679.30" stroke="#1a1a1a" stroke-width="1.20" fill="none"/>
<polygon points="379.70,679.30 387.70,676.10 387.70,682.50" fill="#1a1a1a"/>
<polygon points="555.00,679.30 547.00,682.50 547.00,676.10" fill="#1a1a1a"/>
<text x="484.90" y="682.90" font-size="11" text-anchor="middle">56.75&quot;</text>
</svg>
</body></html>
